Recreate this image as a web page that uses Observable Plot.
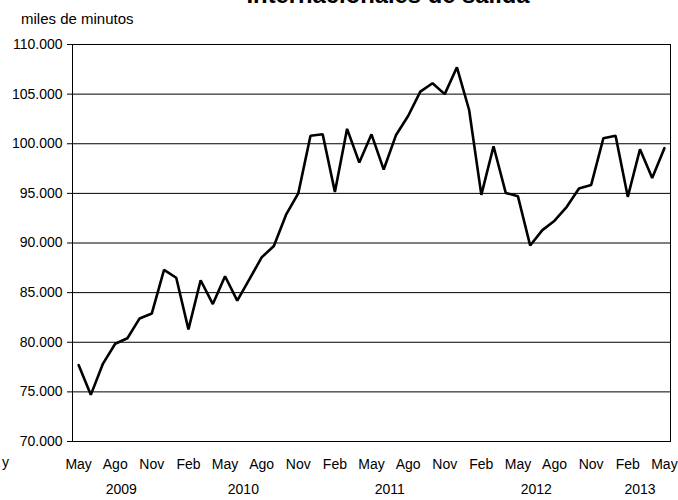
<!DOCTYPE html>
<html>
<head>
<meta charset="utf-8">
<script src="https://cdn.jsdelivr.net/npm/d3@7"></script>
<script src="https://cdn.jsdelivr.net/npm/@observablehq/plot@0.6"></script>
<style>
  html, body { margin: 0; padding: 0; background: #fff; }
  #wrap { position: relative; width: 678px; height: 500px; overflow: hidden; font-family: "Liberation Sans", Arial, sans-serif; color: #000; }
  #title { position: absolute; left: 0; width: 776px; text-align: center; top: -19px; font-size: 23.8px; font-weight: bold; white-space: nowrap; }
  #unit { position: absolute; left: 21px; top: 10px; font-size: 15px; white-space: nowrap; }
  #frag { position: absolute; left: 2px; top: 454px; font-size: 14px; }
  #chart { position: absolute; left: 0; top: 0; }
</style>
</head>
<body>
<div id="wrap">
  <div id="chart"></div>
  <div id="title">Internacionales de salida</div>
  <div id="unit">miles de minutos</div>
  <div id="frag">y</div>
</div>
<script>
// Monthly values, May 2009 – May 2013 (miles de minutos)
const values = [
  77700, 74700, 77850, 79850, 80400, 82400, 82900, 87300,            // 2009 May–Dic
  86500, 81300, 86250, 83850, 86650, 84200, 86350, 88550, 89700, 92850, 95000, 100800, // 2010
  100950, 95150, 101500, 98100, 100950, 97400, 100850, 102800, 105250, 106100, 105000, 107700, // 2011
  103400, 94850, 99750, 95050, 94700, 89750, 91300, 92250, 93650, 95500, 95850, 100550, // 2012
  100800, 94650, 99450, 96550, 99550                                   // 2013 Ene–May
];
const tickLabels = ["May","Ago","Nov","Feb","May","Ago","Nov","Feb","May","Ago","Nov","Feb","May","Ago","Nov","Feb","May"];
const years = [2009, 2010, 2011, 2012, 2013];
const monthsPerYear = [8, 12, 12, 12, 5];
const yTicks = [70000, 75000, 80000, 85000, 90000, 95000, 100000, 105000, 110000];

const data = values.map((v, i) => ({i, v}));
const tickIdx = tickLabels.map((_, k) => k * 3);
let start = 0;
const yearData = years.map((y, k) => {
  const c = start + (monthsPerYear[k] - 1) / 2;
  start += monthsPerYear[k];
  return {year: String(y), c};
});
const fmt = d => d3.format(",")(d).replace(/,/g, ".");

const chart = Plot.plot({
  width: 678,
  height: 500,
  marginTop: 44,
  marginBottom: 59,
  marginLeft: 72,
  marginRight: 8,
  style: {fontFamily: '"Liberation Sans", Arial, sans-serif', fontSize: "14px", color: "#000", background: "transparent"},
  x: {domain: [-0.5, values.length - 0.5]},
  y: {domain: [70000, 110000]},
  marks: [
    Plot.ruleY(yTicks, {stroke: "#000", strokeWidth: 1}),
    Plot.frame({stroke: "#000", strokeWidth: 1}),
    Plot.axisY({ticks: yTicks, tickFormat: fmt, tickSize: 5, tickPadding: 5, label: null, fontSize: 14}),
    Plot.axisX({ticks: tickIdx, tickFormat: i => tickLabels[tickIdx.indexOf(i)], tickSize: 0, tickPadding: 18, label: null, fontSize: 14}),
    Plot.text(yearData, {x: "c", text: "year", frameAnchor: "bottom", dy: 52, fontSize: 14}),
    Plot.line(data, {x: "i", y: "v", stroke: "#000", strokeWidth: 2.6, strokeLinejoin: "miter"})
  ]
});
document.getElementById("chart").appendChild(chart);
</script>
</body>
</html>
